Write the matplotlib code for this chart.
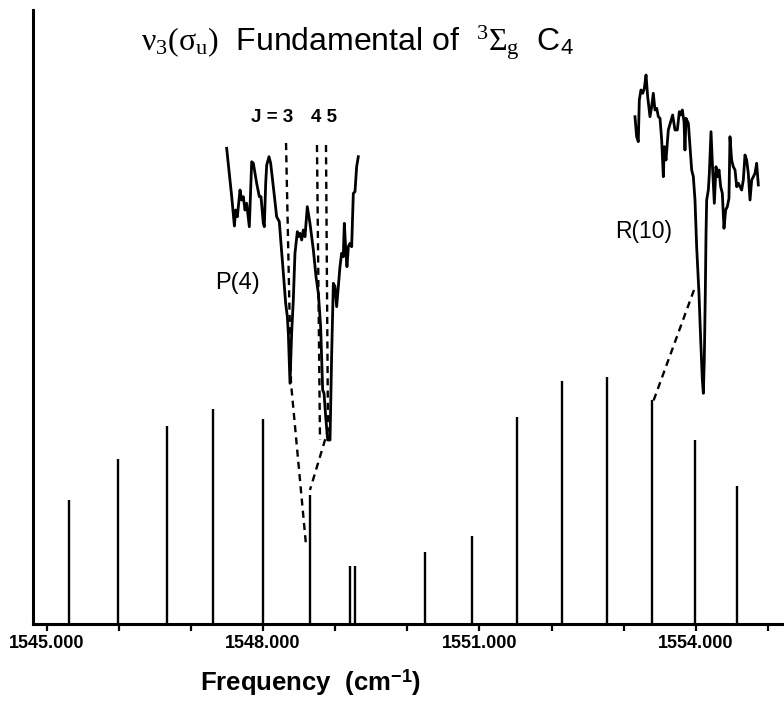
import matplotlib
matplotlib.use("Agg")
import matplotlib.pyplot as plt
from matplotlib.ticker import FixedLocator, NullFormatter

plt.rcParams['font.family'] = ['Liberation Sans', 'DejaVu Sans']
plt.rcParams['mathtext.fontset'] = 'custom'
plt.rcParams['mathtext.rm'] = 'Liberation Serif'
plt.rcParams['mathtext.it'] = 'Liberation Serif'
plt.rcParams['mathtext.sf'] = 'Liberation Sans'
plt.rcParams['mathtext.bf'] = 'Liberation Sans:bold'

# Stick spectrum (calculated line positions, cm-1) and relative intensities
stick_freq = [1545.309, 1545.993, 1546.664, 1547.310, 1547.995, 1548.650,
              1549.205, 1549.274, 1550.245, 1550.892, 1551.524, 1552.148,
              1552.772, 1553.388, 1553.988, 1554.575]
stick_int = [124, 165, 198, 215, 205, 129, 58, 58, 72, 88, 207, 243, 247,
             224, 184, 138]

# Observed trace near P(4)
p_freq = [1547.495, 1547.565, 1547.602, 1547.620, 1547.643, 1547.680, 1547.703,
          1547.726, 1547.749, 1547.772, 1547.809, 1547.842, 1547.865, 1547.911,
          1547.948, 1547.971, 1548.003, 1548.017, 1548.036, 1548.050, 1548.082,
          1548.105, 1548.142, 1548.188, 1548.225, 1548.248, 1548.281, 1548.313,
          1548.336, 1548.350, 1548.373, 1548.396, 1548.419, 1548.442, 1548.475,
          1548.489, 1548.512, 1548.535, 1548.558, 1548.581, 1548.613, 1548.650,
          1548.697, 1548.734, 1548.766, 1548.798, 1548.826, 1548.845, 1548.868,
          1548.895, 1548.928, 1548.951, 1548.974, 1548.997, 1549.020, 1549.043,
          1549.066, 1549.089, 1549.112, 1549.126, 1549.149, 1549.163, 1549.182,
          1549.205, 1549.228, 1549.251, 1549.274, 1549.297, 1549.320]
p_sig = [475.7, 427.3, 398, 414, 407.3, 434, 424, 427.3, 414, 420.7, 397.3,
         462.3, 460.7, 440.7, 427.3, 427.3, 400.7, 397.3, 440.7, 459, 467.3,
         460.7, 437.3, 407.3, 402.3, 380.7, 350.7, 320.7, 307.3, 290.7, 240.7,
         290.7, 324, 370.7, 392.3, 387.3, 390.7, 384, 394, 387.3, 417.3, 400.7,
         374, 347.3, 330.7, 297.3, 234, 230.7, 207.3, 184, 184, 270.7, 340.7,
         337.3, 317.3, 337.3, 357.3, 370.7, 367.3, 400.7, 370.7, 357.3, 377.3,
         380.7, 377.3, 430.7, 432.3, 457.3, 467.3]

# Observed trace near R(10)
r_freq = [1553.156, 1553.179, 1553.202, 1553.216, 1553.239, 1553.263, 1553.286,
          1553.309, 1553.332, 1553.364, 1553.387, 1553.410, 1553.433, 1553.457,
          1553.480, 1553.503, 1553.526, 1553.549, 1553.563, 1553.586, 1553.618,
          1553.651, 1553.678, 1553.711, 1553.743, 1553.771, 1553.789, 1553.812,
          1553.836, 1553.849, 1553.863, 1553.896, 1553.919, 1553.942, 1553.965,
          1553.988, 1554.011, 1554.043, 1554.067, 1554.090, 1554.104, 1554.117,
          1554.131, 1554.141, 1554.150, 1554.173, 1554.187, 1554.210, 1554.233,
          1554.256, 1554.279, 1554.302, 1554.321, 1554.344, 1554.367, 1554.390,
          1554.413, 1554.436, 1554.459, 1554.473, 1554.496, 1554.519, 1554.543,
          1554.566, 1554.589, 1554.612, 1554.635, 1554.658, 1554.681, 1554.704,
          1554.727, 1554.751, 1554.774, 1554.797, 1554.820, 1554.843, 1554.866]
r_sig = [507.3, 487.3, 482.3, 524, 534, 530.7, 535.7, 549, 527.3, 507.3, 517.3,
         530.7, 514, 515.7, 507.3, 505.7, 484, 447.3, 477.3, 464, 494, 502.3,
         509, 494, 494, 512.3, 509, 514, 502.3, 474, 505.7, 500.7, 477.3, 454,
         447.3, 424, 377.3, 330.7, 284, 244, 230.7, 264, 330.7, 390.7, 424, 434,
         450.7, 492.3, 454, 420.7, 457.3, 447.3, 454, 437.3, 430.7, 395.7, 414,
         417.3, 425.7, 487.3, 464, 457.3, 454, 437.3, 440.7, 437.3, 434, 444,
         469, 464, 450.7, 424, 444, 447.3, 450.7, 460.7, 439]

# Assignment guide lines (dashed)
j3_freq, j3_val = [1548.318, 1548.387, 1548.595], [481, 241, 79]
j4_freq, j4_val = [1548.747, 1548.789], [479, 184]
j5_freq, j5_val = [1548.872, 1548.900, 1548.650], [479, 194, 134]
r10_freq, r10_val = [1553.974, 1553.406], [334, 222]

major_ticks = [1545, 1548, 1551, 1554]
major_labels = ['1545.000', '1548.000', '1551.000', '1554.000']
minor_ticks = list(range(1545, 1556))

fig = plt.figure(figsize=(7.84, 7.06), dpi=100)
ax = fig.add_axes([33 / 784, 1 - 624 / 706, 1 - 33 / 784, (624 - 10) / 706])
ax.set_xlim(1544.810, 1555.222)
ax.set_ylim(0, 614)

ax.vlines(stick_freq, 0, stick_int, color='black', lw=1.7)
ax.plot(p_freq, p_sig, color='black', lw=2.0, solid_joinstyle='round')
ax.plot(r_freq, r_sig, color='black', lw=2.0, solid_joinstyle='round')

for fx, fy in [(j3_freq, j3_val), (j4_freq, j4_val), (j5_freq, j5_val), (r10_freq, r10_val)]:
    ax.plot(fx, fy, color='black', lw=1.7, ls=(0, (3.0, 2.2)))

ax.text(1547.652, 341, 'P(4)', fontsize=17, ha='center', va='center')
ax.text(1553.281, 392, 'R(10)', fontsize=16.5, ha='center', va='center')
ax.text(1548.415, 506, 'J = 3', fontsize=13.5, fontweight='bold', ha='right', va='center')
ax.text(1548.660, 506, '4 5', fontsize=13.5, fontweight='bold', ha='left', va='center')

for s in ['top', 'right']:
    ax.spines[s].set_visible(False)
ax.spines['left'].set_linewidth(2.2)
ax.spines['bottom'].set_linewidth(2.2)
ax.set_yticks([])

ax.xaxis.set_major_locator(FixedLocator(major_ticks))
ax.set_xticklabels(major_labels)
ax.xaxis.set_minor_locator(FixedLocator(minor_ticks))
ax.xaxis.set_minor_formatter(NullFormatter())
ax.tick_params(axis='x', which='both', direction='out', length=5, width=1.6, pad=3)
for lab in ax.get_xticklabels():
    lab.set_fontsize(13)
    lab.set_fontweight('bold')

fig.text(0.456, 1 - 43 / 706,
         r'$\nu_{3}(\sigma_{u})$  Fundamental of  $^{3}\Sigma_{g}$  C$_\mathsf{4}$',
         fontsize=23, ha='center', va='center')
fig.text(310 / 784, 1 - 683 / 706, r'Frequency  (cm$^{\mathbf{-1}}$)',
         fontsize=18.5, fontweight='bold', ha='center', va='center')

fig.savefig('out.png', dpi=100)
